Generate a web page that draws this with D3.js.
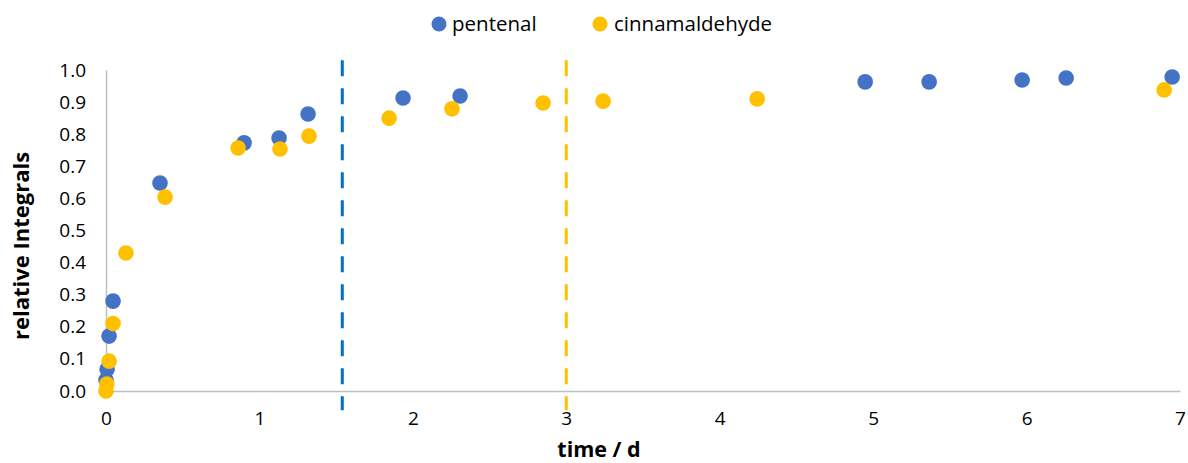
<!DOCTYPE html>
<html>
<head>
<meta charset="utf-8">
<script src="https://cdn.jsdelivr.net/npm/d3@7"></script>
<style>
  html, body { margin: 0; padding: 0; background: #fff; }
  svg { display: block; }
  text { font-family: "Open Sans", "Liberation Sans", sans-serif; fill: #000; }
</style>
</head>
<body>
<svg id="chart" width="1188" height="463"></svg>
<script>
// Reaction progress: relative integrals over time (days)
const pentenalTime = [0, 0.007, 0.02, 0.046, 0.352, 0.9, 1.128, 1.317, 1.936, 2.308, 4.948, 5.365, 5.971, 6.258, 6.949];
const pentenalValue = [0.034, 0.068, 0.171, 0.28, 0.648, 0.773, 0.788, 0.863, 0.913, 0.919, 0.963, 0.963, 0.969, 0.975, 0.978];

const cinnamTime = [0, 0.005, 0.02, 0.046, 0.13, 0.385, 0.861, 1.134, 1.323, 1.845, 2.255, 2.849, 3.24, 4.244, 6.897];
const cinnamValue = [0.0, 0.022, 0.093, 0.21, 0.43, 0.604, 0.757, 0.754, 0.794, 0.85, 0.879, 0.897, 0.903, 0.91, 0.938];

// Dashed markers for completion time of each reaction
const markerTimes = [1.54, 3.0];
const markerNames = ["pentenal", "cinnamaldehyde"];

const seriesNames = ["pentenal", "cinnamaldehyde"];
const xTicks = [0, 1, 2, 3, 4, 5, 6, 7];
const yTicks = [0, 0.1, 0.2, 0.3, 0.4, 0.5, 0.6, 0.7, 0.8, 0.9, 1.0];

const colors = { pentenal: "#4472C4", cinnamaldehyde: "#FFC000" };
const lineColors = { pentenal: "#0070C0", cinnamaldehyde: "#FFC000" };

const svg = d3.select("#chart");
const x = d3.scaleLinear().domain([0, 7]).range([106, 1180]);
const y = d3.scaleLinear().domain([0, 1]).range([391, 70]);

// Axes
const yAxis = svg.append("g").attr("transform", `translate(${x(0)},0)`)
  .call(d3.axisLeft(y).tickValues(yTicks).tickFormat(d3.format(".1f")).tickSize(0).tickPadding(20));
const xAxis = svg.append("g").attr("transform", `translate(0,${y(0)})`)
  .call(d3.axisBottom(x).tickValues(xTicks).tickFormat(d3.format("d")).tickSize(0).tickPadding(21));
[yAxis, xAxis].forEach(g => {
  g.select(".domain").attr("stroke", "#BFBFBF").attr("stroke-width", 1.5);
  g.selectAll("text").style("font-size", "19px").attr("fill", "#000").style("font-family", "'Open Sans', sans-serif");
});

// Vertical dashed lines
svg.append("g").selectAll("line").data(markerTimes).join("line")
  .attr("x1", d => x(d)).attr("x2", d => x(d))
  .attr("y1", y(1.03)).attr("y2", y(-0.06))
  .attr("stroke", (d, i) => lineColors[markerNames[i]])
  .attr("stroke-width", 3)
  .attr("stroke-dasharray", "16,12");

// Points
const pent = pentenalTime.map((t, i) => ({ t, v: pentenalValue[i] }));
const cinn = cinnamTime.map((t, i) => ({ t, v: cinnamValue[i] }));
const r = 7.8;
svg.append("g").selectAll("circle").data(pent).join("circle")
  .attr("cx", d => x(d.t)).attr("cy", d => y(d.v)).attr("r", r).attr("fill", colors.pentenal);
svg.append("g").selectAll("circle").data(cinn).join("circle")
  .attr("cx", d => x(d.t)).attr("cy", d => y(d.v)).attr("r", r).attr("fill", colors.cinnamaldehyde);

// Axis titles
svg.append("text").attr("x", 599).attr("y", 457).attr("text-anchor", "middle")
  .style("font-size", "21.5px").style("font-weight", "bold").text("time / d");
svg.append("text").attr("transform", "translate(29,246) rotate(-90)").attr("text-anchor", "middle")
  .style("font-size", "22px").style("font-weight", "bold").text("relative Integrals");

// Legend
const legendPos = [{ cx: 439, tx: 452 }, { cx: 600, tx: 614 }];
const legend = svg.append("g").selectAll("g").data(seriesNames).join("g");
legend.append("circle").attr("cx", (d, i) => legendPos[i].cx).attr("cy", 24).attr("r", 7.5)
  .attr("fill", d => colors[d]);
legend.append("text").attr("x", (d, i) => legendPos[i].tx).attr("y", 31)
  .style("font-size", "20.5px").text(d => d);
</script>
</body>
</html>
